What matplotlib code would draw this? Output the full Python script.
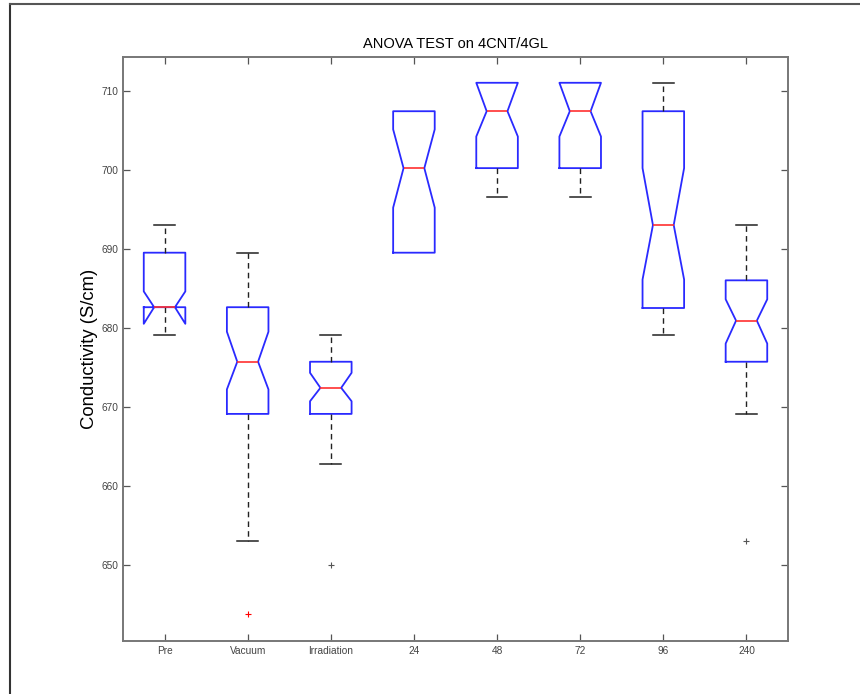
import matplotlib
matplotlib.use("Agg")
import matplotlib.pyplot as plt
from matplotlib.lines import Line2D

# groups on the x axis
groups = ['Pre', 'Vacuum', 'Irradiation', '24', '48', '72', '96', '240']

# box statistics (S/cm)
whis_hi = [693.0, 689.5, 679.1, 707.4, 711.0, 711.0, 711.0, 693.0]
q3      = [689.5, 682.6, 675.7, 707.4, 711.0, 711.0, 707.4, 686.0]
notch_hi = [684.6, 679.5, 674.3, 705.1, 711.0, 711.0, 700.2, 683.6]
median  = [682.6, 675.7, 672.4, 700.2, 707.4, 707.4, 693.0, 680.9]
notch_lo = [680.5, 672.2, 670.7, 695.2, 704.2, 704.2, 686.1, 678.0]
q1      = [682.6, 669.1, 669.1, 689.5, 700.2, 700.2, 682.5, 675.7]
whis_lo = [679.1, 653.0, 662.7, 689.5, 696.5, 696.5, 679.1, 669.1]
outliers = [[], [643.8], [650.0], [], [], [], [], [653.0]]
outlier_colors = ['r', 'r', '#555555', 'r', 'r', 'r', 'r', '#555555']

stats = []
for i in range(len(groups)):
    stats.append({
        'label': groups[i],
        'med': median[i], 'q1': q1[i], 'q3': q3[i],
        'cilo': notch_lo[i], 'cihi': notch_hi[i],
        'whislo': whis_lo[i], 'whishi': whis_hi[i],
        'fliers': outliers[i],
    })

plt.rcParams['font.family'] = ['Liberation Sans', 'DejaVu Sans']

fig = plt.figure(figsize=(8.6, 6.94), dpi=100)
ax = fig.add_axes([0.143, 0.0768, 0.7733, 0.8415])

parts = ax.bxp(stats, widths=0.5, shownotches=True, showfliers=True,
               boxprops=dict(color='#2a2aff', linewidth=1.3),
               medianprops=dict(color='#ff3030', linewidth=1.2),
               whiskerprops=dict(color='#222222', linewidth=1.0, linestyle=(0, (4, 3))),
               capprops=dict(color='#222222', linewidth=1.1),
               flierprops=dict(marker='+', markersize=5, markeredgewidth=0.8, linestyle='none'))

for fl, c in zip(parts['fliers'], outlier_colors):
    fl.set_markeredgecolor(c)

# whiskers that end right on the box are not shown
for i in range(len(groups)):
    if whis_lo[i] >= q1[i]:
        parts['caps'][2 * i].set_visible(False)
        parts['whiskers'][2 * i].set_visible(False)
    if whis_hi[i] <= q3[i]:
        parts['caps'][2 * i + 1].set_visible(False)
        parts['whiskers'][2 * i + 1].set_visible(False)

ax.set_xlim(0.5, 8.5)
ax.set_ylim(640.4, 714.3)
ax.set_yticks([650, 660, 670, 680, 690, 700, 710])
ax.set_xticklabels(groups)

ax.tick_params(direction='in', length=5, width=0.9, top=True, right=True,
               color='#555555', labelcolor='#444444', labelsize=7.3)
ax.tick_params(axis='x', pad=4)
ax.tick_params(axis='y', pad=3.5)
for sp in ax.spines.values():
    sp.set_color('#777777')
    sp.set_linewidth(1.4)

ax.set_title('ANOVA TEST on 4CNT/4GL', fontsize=10.5, pad=6)
ax.set_ylabel('Conductivity (S/cm)', fontsize=13.3)
ax.yaxis.set_label_coords(-0.038, 0.5)

# outer frame of the scanned page
fig.add_artist(Line2D([10 / 860, 10 / 860], [0, 1 - 4 / 694], transform=fig.transFigure,
                      color='#333333', linewidth=1.5))
fig.add_artist(Line2D([10 / 860, 1], [1 - 4 / 694, 1 - 4 / 694], transform=fig.transFigure,
                      color='#555555', linewidth=1.5))

fig.savefig('out.png', dpi=100)
